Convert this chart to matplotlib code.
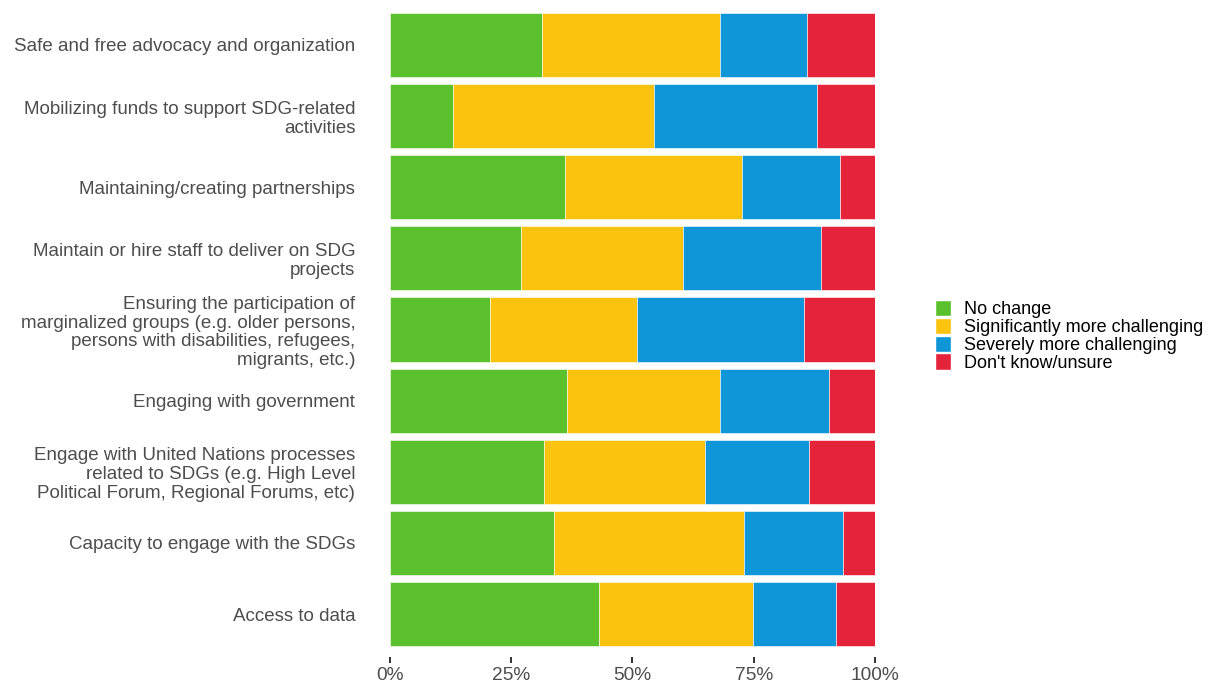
import numpy as np
import matplotlib.pyplot as plt
from matplotlib.patches import Patch

plt.rcParams["font.family"] = ["Liberation Sans", "DejaVu Sans"]

categories = [
    "Safe and free advocacy and organization",
    "Mobilizing funds to support SDG-related\nactivities",
    "Maintaining/creating partnerships",
    "Maintain or hire staff to deliver on SDG\nprojects",
    "Ensuring the participation of\nmarginalized groups (e.g. older persons,\npersons with disabilities, refugees,\nmigrants, etc.)",
    "Engaging with government",
    "Engage with United Nations processes\nrelated to SDGs (e.g. High Level\nPolitical Forum, Regional Forums, etc)",
    "Capacity to engage with the SDGs",
    "Access to data",
]

series_names = [
    "No change",
    "Significantly more challenging",
    "Severely more challenging",
    "Don't know/unsure",
]

no_change = [31.4, 12.9, 36.0, 27.0, 20.7, 36.6, 31.8, 33.8, 43.0]
significantly = [36.7, 41.5, 36.5, 33.5, 30.3, 31.5, 33.1, 39.2, 31.9]
severely = [17.9, 33.6, 20.3, 28.3, 34.3, 22.5, 21.4, 20.4, 17.1]
dont_know = [14.0, 12.0, 7.2, 11.2, 14.7, 9.4, 13.7, 6.6, 8.0]

colors = ["#5AC02C", "#FAC30E", "#0E96D9", "#E5243B"]
tick_vals = [0, 25, 50, 75, 100]
tick_labels = ["0%", "25%", "50%", "75%", "100%"]

fig = plt.figure(figsize=(12.28, 6.81), dpi=100)
ax = fig.add_axes([0.3176, 0.0357, 0.3949, 0.9609])

y = np.arange(len(categories))
left = np.zeros(len(categories))
for name, vals, col in zip(series_names, [no_change, significantly, severely, dont_know], colors):
    vals = np.asarray(vals, dtype=float)
    ax.barh(y, vals, left=left, height=0.9, color=col, edgecolor="white", linewidth=0.4)
    left += vals

ax.set_xlim(0, 100)
ax.set_ylim(len(categories) - 0.4, -0.6)
ax.set_yticks(y)
ax.set_yticklabels(categories, fontsize=13.5, color="#4d4d4d", linespacing=1.15)
ax.tick_params(axis="y", length=0, pad=25)
ax.set_xticks(tick_vals)
ax.set_xticklabels(tick_labels, fontsize=13.8, color="#4d4d4d")
ax.tick_params(axis="x", length=4.5, width=1.4, color="#333333", pad=3)
for s in ax.spines.values():
    s.set_visible(False)

handles = [Patch(facecolor=c, edgecolor="white", label=n) for n, c in zip(series_names, colors)]
fig.legend(handles=handles, loc="center left", bbox_to_anchor=(0.7614, 0.507),
           frameon=False, fontsize=13, handlelength=0.9, handleheight=1.0,
           labelspacing=-0.02, handletextpad=0.7, borderpad=0, borderaxespad=0)

fig.savefig("out.png", dpi=100)
